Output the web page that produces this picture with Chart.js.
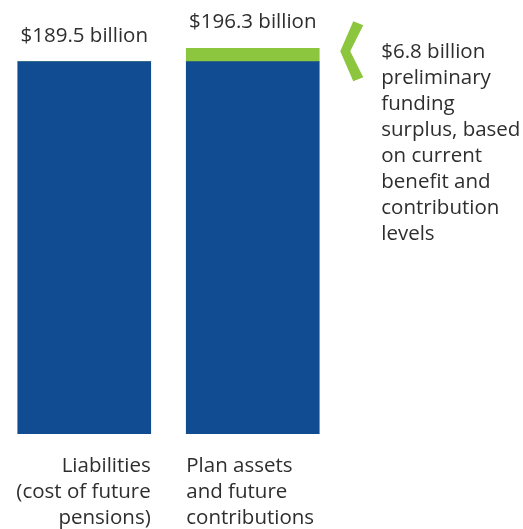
<!DOCTYPE html>
<html>
<head>
<meta charset="utf-8">
<script src="https://cdn.jsdelivr.net/npm/chart.js@4"></script>
<style>
  html, body { margin: 0; padding: 0; background: #fff; }
  #wrap { width: 523px; height: 529px; position: relative; }
</style>
</head>
<body>
<div id="wrap"><canvas id="fundingChart"></canvas></div>
<script>
const categories = [
    ['Liabilities', '(cost of future', 'pensions)'],
    ['Plan assets', 'and future', 'contributions']
];
const baseValues = [189.5, 189.5];
const surplusValues = [0, 6.8];
const totalLabels = ['$189.5 billion', '$196.3 billion'];
const noteLines = ['$6.8 billion', 'preliminary', 'funding', 'surplus, based', 'on current', 'benefit and', 'contribution', 'levels'];

const BLUE = '#114b92';
const GREEN = '#8cc63f';
const TEXT = '#2e2e2e';
const FONT = '20.5px "Open Sans", sans-serif';

const labelPlugin = {
    id: 'labelPlugin',
    afterDatasetsDraw(chart) {
        const ctx = chart.ctx;
        const baseMeta = chart.getDatasetMeta(0);
        const topMeta = chart.getDatasetMeta(1);
        ctx.save();
        ctx.fillStyle = TEXT;
        ctx.font = FONT;

        // totals above bars
        ctx.textAlign = 'center';
        ctx.textBaseline = 'alphabetic';
        baseMeta.data.forEach((bar, i) => {
            const top = Math.min(bar.y, topMeta.data[i].y);
            ctx.fillText(totalLabels[i], bar.x, top - 20);
        });

        // category labels under bars: first right-aligned, second left-aligned
        const bottom = chart.chartArea.bottom;
        baseMeta.data.forEach((bar, i) => {
            const half = bar.width / 2;
            ctx.textAlign = i === 0 ? 'right' : 'left';
            const x = i === 0 ? bar.x + half : bar.x - half;
            categories[i].forEach((line, j) => {
                ctx.fillText(line, x, bottom + 38 + j * 26);
            });
        });

        // chevron pointing at the surplus segment + note
        const seg = topMeta.data[1];
        const cy = seg.y + 3;
        const x0 = seg.x + seg.width / 2 + 21;
        ctx.fillStyle = GREEN;
        ctx.beginPath();
        ctx.moveTo(x0 + 13, cy - 30);
        ctx.lineTo(x0 + 23, cy - 26);
        ctx.lineTo(x0 + 10, cy);
        ctx.lineTo(x0 + 23, cy + 26);
        ctx.lineTo(x0 + 13, cy + 30);
        ctx.lineTo(x0, cy);
        ctx.closePath();
        ctx.fill();

        ctx.fillStyle = TEXT;
        ctx.textAlign = 'left';
        noteLines.forEach((line, j) => {
            ctx.fillText(line, x0 + 41, cy + 7 + j * 26);
        });
        ctx.restore();
    }
};

new Chart(document.getElementById('fundingChart'), {
    type: 'bar',
    data: {
        labels: categories.map(c => c.join(' ')),
        datasets: [
            { data: baseValues, backgroundColor: BLUE, barThickness: 133, borderWidth: 0 },
            { data: surplusValues, backgroundColor: GREEN, barThickness: 133, borderWidth: 0 }
        ]
    },
    options: {
        responsive: true,
        maintainAspectRatio: false,
        animation: false,
        layout: { padding: { left: 0, right: 186, top: 41, bottom: 95 } },
        plugins: { legend: { display: false }, tooltip: { enabled: false } },
        scales: {
            x: { stacked: true, display: false },
            y: { stacked: true, display: false, min: 0, max: 200 }
        }
    },
    plugins: [labelPlugin]
});
</script>
</body>
</html>
